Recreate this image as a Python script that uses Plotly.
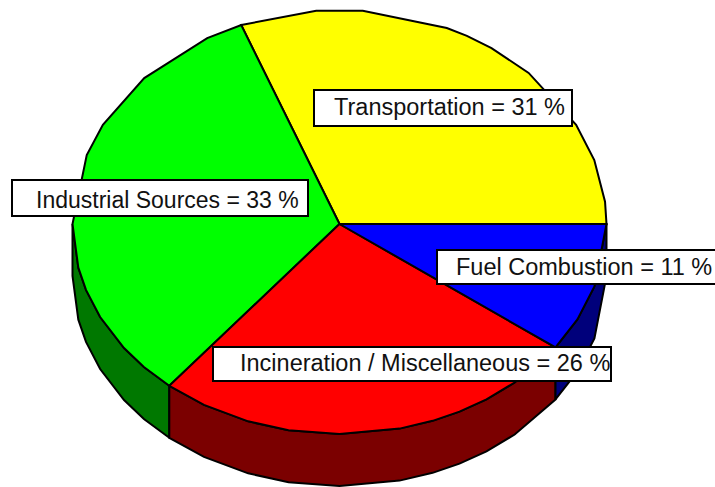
import math
import plotly.graph_objects as go

# Data
categories = ["Transportation", "Industrial Sources", "Incineration / Miscellaneous", "Fuel Combustion"]
shares = [31, 33, 26, 11]  # percent; rounded values sum to 101 in the source labels
boundary_shares = [31, 33, 26, 10]
top_colors = ["#ffff00", "#00ff00", "#ff0000", "#0000ff"]
wall_colors = ["#7b7b00", "#007800", "#7b0000", "#00007b"]

# Drawing geometry (pixel axis = window size)
W, H = 715, 487
CX, CY, RX, RY_UP, RY_DOWN, DEPTH = 339.5, 224, 267, 214, 210, 52
RIM_ANGLES = [6, 17.4, 27.6, 44.9, 55.3, 61.5, 66.3, 85, 95, 119.7, 137, 152.4, 161.2, 180,
              192, 198.3, 206.3, 216.2, 222.9, 239.5, 250, 259, 270, 283, 290.4, 296.7,
              303.4, 311, 333, 342.7]
LINE = dict(color="#000000", width=2)


def rim(t, drop=0):
    s, c = math.sin(math.radians(t)), math.cos(math.radians(t))
    return CX + RX * c, CY - (RY_UP if s > 0 else RY_DOWN) * s + drop


def arc(a, b, drop=0):
    angles = [a] + [t for t in RIM_ANGLES if a < t < b] + [b]
    return [rim(t, drop) for t in angles]


edges = [0]
for v in boundary_shares:
    edges.append(edges[-1] + v * 3.6)
edges[-1] = 360

fig = go.Figure()


def poly(points, color):
    xs = [p[0] for p in points] + [points[0][0]]
    ys = [p[1] for p in points] + [points[0][1]]
    fig.add_trace(go.Scatter(x=xs, y=ys, mode="lines", fill="toself", fillcolor=color,
                             line=LINE, hoverinfo="skip", showlegend=False))


# side walls (only the front half of the disc shows)
for i in range(4):
    a, b = max(edges[i], 180), edges[i + 1]
    if b > a:
        poly(arc(a, b) + arc(a, b, DEPTH)[::-1], wall_colors[i])

# top faces
for i in range(4):
    poly([(CX, CY)] + arc(edges[i], edges[i + 1]), top_colors[i])

# label boxes: (x0, y0, x1, y1, text x, text y, font size)
boxes = [(314, 90, 572, 126, 331.5, 107, 23.5), (12, 180, 308, 216, 34, 200, 23),
         (213, 347, 611, 381, 237.5, 363, 23.5), (437, 250, 720, 284, 454, 267, 23.5)]
for (x0, y0, x1, y1, tx, ty, fs), name, v in zip(boxes, categories, shares):
    fig.add_shape(type="rect", x0=x0, y0=y0, x1=x1, y1=y1, xref="x", yref="y",
                  fillcolor="#ffffff", line=dict(color="#000000", width=2), layer="above")
    fig.add_annotation(x=tx, y=ty, xref="x", yref="y", text=f"{name} = {v} %",
                       showarrow=False, xanchor="left", yanchor="middle",
                       font=dict(family="Liberation Sans", size=fs, color="#111111"))

fig.update_layout(
    width=W, height=H, margin=dict(l=0, r=0, t=0, b=0),
    paper_bgcolor="#ffffff", plot_bgcolor="#ffffff", showlegend=False,
    xaxis=dict(range=[0, W], visible=False, fixedrange=True),
    yaxis=dict(range=[H, 0], visible=False, fixedrange=True),
)
fig.write_html("out.html", config={"displayModeBar": False},
               post_script="document.body.style.margin='0';document.body.style.overflow='hidden';")
